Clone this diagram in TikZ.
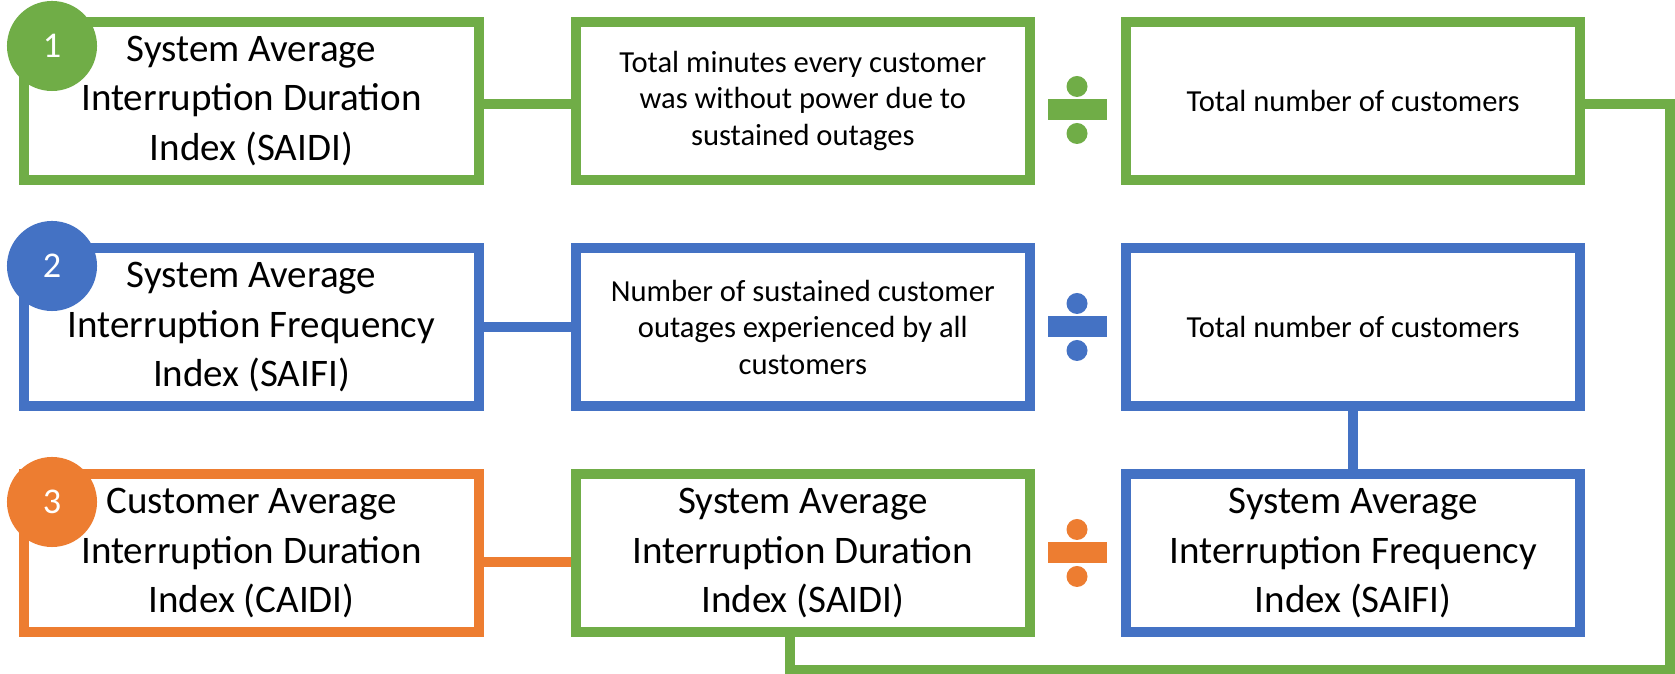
\documentclass[tikz,border=0pt]{standalone}
\usepackage{fontspec}
\setmainfont{Carlito}
\usepackage{xcolor}
\usetikzlibrary{positioning}
\definecolor{saidigreen}{HTML}{70AD47}
\definecolor{saifiblue}{HTML}{4472C4}
\definecolor{caidiorange}{HTML}{ED7D31}
\tikzset{
  index/.style={draw, line width=0.1cm, fill=white, minimum width=4.54cm, minimum height=1.58cm,
    align=center, inner sep=0pt, font=\fontsize{11.1}{14}\selectfont},
  term/.style={index, font=\fontsize{8.7}{10.4}\selectfont},
  badge/.style={circle, minimum size=0.9cm, inner sep=0pt, text=white, font=\fontsize{10.3}{12}\selectfont},
  link/.style={line width=0.1cm}
}

\begin{document}
\begin{tikzpicture}[x=0.01cm,y=-0.01cm]
    \useasboundingbox (0,0) rectangle (1675,674);
    % row 1: SAIDI
    \node[index, draw=saidigreen] (a1) at (251.5,101) {System Average\\Interruption Duration\\Index (SAIDI)};
    \node[term, draw=saidigreen, right=0.87cm of a1] (b1) {Total minutes every customer\\was without power due to\\sustained outages};
    \node[term, draw=saidigreen, right=0.86cm of b1] (c1) {Total number of customers};
    % row 2: SAIFI
    \node[index, draw=saifiblue, below=0.58cm of a1] (a2) {System Average\\Interruption Frequency\\Index (SAIFI)};
    \node[term, draw=saifiblue, right=0.87cm of a2] (b2) {Number of sustained customer\\outages experienced by all\\customers};
    \node[term, draw=saifiblue, right=0.86cm of b2] (c2) {Total number of customers};
    % row 3: CAIDI
    \node[index, draw=caidiorange, below=0.58cm of a2] (a3) {Customer Average\\Interruption Duration\\Index (CAIDI)};
    \node[index, draw=saidigreen, right=0.87cm of a3] (b3) {System Average\\Interruption Duration\\Index (SAIDI)};
    \node[index, draw=saifiblue, right=0.86cm of b3] (c3) {System Average\\Interruption Frequency\\Index (SAIFI)};

    % connectors
    \draw[link, saidigreen] ([yshift=-0.03cm]a1.east) -- ([yshift=-0.03cm]b1.west);
    \draw[link, saifiblue] (a2) -- (b2);
    \draw[link, caidiorange] ([yshift=-0.09cm]a3.east) -- ([yshift=-0.09cm]b3.west);
    \draw[link, saifiblue] (c2) -- (c3);
    \coordinate (loop) at (1670,670);
    \draw[link, saidigreen] ([yshift=-0.03cm]c1.east) -| (loop) -| ([xshift=-0.13cm]b3.south);

    % division signs
    \foreach \clr/\yy in {saidigreen/110, saifiblue/327, caidiorange/553} {
      \fill[\clr] (1048,\yy-10.5) rectangle (1107,\yy+10.5);
      \fill[\clr] (1077,\yy-23.5) circle[radius=0.105cm];
      \fill[\clr] (1077,\yy+23.5) circle[radius=0.105cm];
    }

    % numbered badges
    \node[badge, fill=saidigreen] (n1) at (52,46) {1};
    \node[badge, fill=saifiblue] (n2) at (52,266) {2};
    \node[badge, fill=caidiorange] (n3) at (52,502) {3};
\end{tikzpicture}
\end{document}
